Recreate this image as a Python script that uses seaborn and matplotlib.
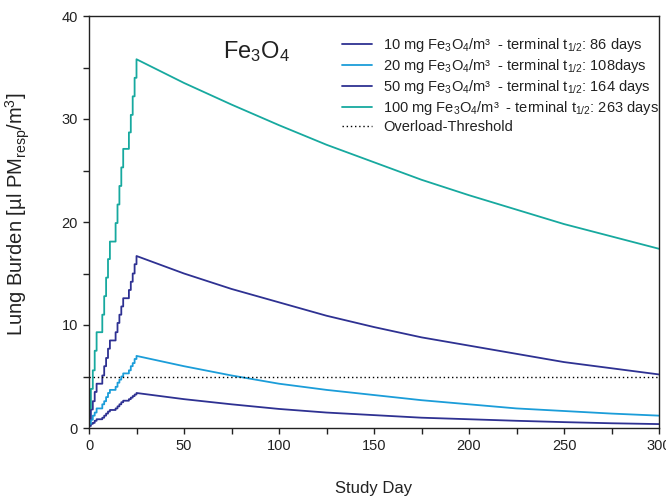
import numpy as np
import pandas as pd
import matplotlib
matplotlib.use("Agg")
import matplotlib.pyplot as plt
import seaborn as sns
from matplotlib.lines import Line2D

# ---------------- data ----------------
exposure_days = [0, 1, 2, 3, 4, 7, 8, 9, 10, 11, 14, 15, 16, 17, 18, 21, 22, 23, 24, 25]
buildup_10 = [0.2, 0.4, 0.5, 0.7, 0.85, 1.0, 1.2, 1.4, 1.6, 1.75,
              1.9, 2.1, 2.3, 2.5, 2.65, 2.8, 2.95, 3.1, 3.25, 3.4]
buildup_20 = [0.4, 0.8, 1.2, 1.5, 1.9, 2.3, 2.6, 3.0, 3.4, 3.7,
              4.0, 4.4, 4.7, 5.0, 5.3, 5.6, 6.0, 6.3, 6.7, 7.0]
buildup_50 = [0.9, 1.8, 2.6, 3.5, 4.3, 5.1, 6.0, 6.8, 7.7, 8.5,
              9.3, 10.2, 11.0, 11.8, 12.6, 13.4, 14.2, 15.0, 15.9, 16.7]
buildup_100 = [1.9, 3.8, 5.6, 7.5, 9.3, 11.0, 12.8, 14.6, 16.4, 18.1,
               19.9, 21.7, 23.5, 25.3, 27.1, 28.7, 30.4, 32.2, 34.0, 35.8]

decay_days = [50, 75, 100, 125, 150, 175, 200, 225, 250, 275, 300]
decay_10 = [2.8, 2.3, 1.85, 1.5, 1.25, 1.0, 0.85, 0.7, 0.57, 0.46, 0.38]
decay_20 = [6.0, 5.1, 4.3, 3.7, 3.2, 2.7, 2.3, 1.9, 1.65, 1.4, 1.2]
decay_50 = [15.0, 13.5, 12.2, 10.9, 9.8, 8.8, 8.0, 7.2, 6.4, 5.8, 5.2]
decay_100 = [33.5, 31.4, 29.4, 27.5, 25.8, 24.1, 22.6, 21.2, 19.8, 18.6, 17.4]

threshold = 5.0

labels = [
    r"10 mg Fe$_3$O$_4$/m³  - terminal t$_{1/2}$: 86 days",
    r"20 mg Fe$_3$O$_4$/m³  - terminal t$_{1/2}$: 108days",
    r"50 mg Fe$_3$O$_4$/m³  - terminal t$_{1/2}$: 164 days",
    r"100 mg Fe$_3$O$_4$/m³  - terminal t$_{1/2}$: 263 days",
]
threshold_label = "Overload-Threshold"
colors = ["#2E3192", "#1B9DD9", "#2E3192", "#17A99F"]

# ------------- build long-form table -------------
rows = []
for lab, bu, de in zip(labels, [buildup_10, buildup_20, buildup_50, buildup_100],
                       [decay_10, decay_20, decay_50, decay_100]):
    xs = [0.0]
    ys = [0.0]
    prev = 0.0
    for d, v in zip(exposure_days, bu):
        xs += [d, d]
        ys += [prev, v]
        prev = v
    xs += decay_days
    ys += de
    for x, y in zip(xs, ys):
        rows.append({"day": x, "burden": y, "series": lab})
df = pd.DataFrame(rows)

# ---------------- plot ----------------
sns.set_style("ticks")
plt.rcParams["font.family"] = ["Liberation Sans", "DejaVu Sans"]
plt.rcParams["mathtext.fontset"] = "custom"
plt.rcParams["mathtext.rm"] = "Liberation Sans"
plt.rcParams["mathtext.it"] = "Liberation Sans"
plt.rcParams["mathtext.bf"] = "Liberation Sans:bold"

fig = plt.figure(figsize=(6.66, 4.96), dpi=100)
ax = fig.add_axes([89 / 666, 68 / 496, 570 / 666, 412 / 496])

sns.lineplot(data=df, x="day", y="burden", hue="series", hue_order=labels,
             palette=dict(zip(labels, colors)), estimator=None, sort=False,
             units="series", linewidth=1.3, ax=ax, legend=False)

ax.axhline(threshold, color="black", linestyle=(0, (1, 2)), linewidth=1.0)

handles = [Line2D([], [], color=c, linewidth=1.3) for c in colors]
handles.append(Line2D([], [], color="black", linestyle=(0, (1, 2)), linewidth=1.0))
leg = ax.legend(handles, labels + [threshold_label], loc="upper left",
                bbox_to_anchor=(0.4286, 0.972), frameon=False, fontsize=10.5,
                handlelength=2.05, handletextpad=0.75, labelspacing=0.2,
                borderaxespad=0.2)
for t in leg.get_texts():
    t.set_color("#222222")

ax.text(0.294, 0.913, r"Fe$_3$O$_4$", transform=ax.transAxes, fontsize=17,
        color="#222222", ha="center", va="center")

ax.set_xlim(0, 300)
ax.set_ylim(0, 40)
ax.set_xticks(np.arange(0, 301, 50))
ax.set_xticks(np.arange(25, 300, 50), minor=True)
ax.set_yticks(np.arange(0, 41, 10))
ax.set_yticks(np.arange(5, 40, 10), minor=True)
ax.tick_params(which="both", direction="out", length=4, width=1, color="#222222",
               labelsize=10.5, labelcolor="#222222", pad=4,
               top=False, right=False)

for s in ax.spines.values():
    s.set_visible(True)
    s.set_color("#222222")
    s.set_linewidth(1.0)

ax.set_xlabel("Study Day", fontsize=12, color="#222222", labelpad=20)
ax.set_ylabel(r"Lung Burden [µl PM$_{resp}$/m$^3$]", fontsize=14.5,
              color="#222222")
ax.yaxis.set_label_coords(-0.100, 0.52)

fig.savefig("out.png", dpi=100)
